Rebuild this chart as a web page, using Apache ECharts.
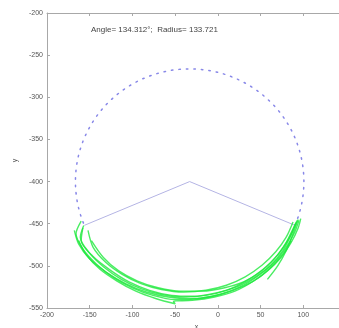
<!DOCTYPE html>
<html>
<head>
<meta charset="utf-8">
<script src="https://cdn.jsdelivr.net/npm/echarts@6/dist/echarts.min.js"></script>
<style>
  html, body { margin: 0; padding: 0; background: #fff; }
  #chart { width: 339px; height: 328px; }
</style>
</head>
<body>
<div id="chart"></div>
<script>
// fitted circle and the two end points of the wedge
const center = [-33, -400];
const radius = 133.721;
const wedgeAngle = 134.312;
const leftEnd = [-156.2, -451.9];
const rightEnd = [90.2, -451.9];

// green traces
const trace1 = [[-160, -447], [-166, -462], [-158, -480], [-142, -498], [-122, -514], [-100, -526], [-76, -535], [-50, -540], [-24, -539], [2, -534], [26, -525], [47, -512], [66, -496], [80, -478], [90, -460], [95, -446]];
const trace2 = [[-157, -452], [-161, -466], [-151, -484], [-134, -501], [-113, -516], [-90, -527], [-66, -534], [-40, -537], [-14, -535], [10, -529], [33, -518], [53, -504], [70, -487], [83, -468], [91, -450]];
const trace3 = [[-152, -458], [-146, -478], [-131, -496], [-112, -510], [-90, -521], [-66, -528], [-40, -531], [-14, -529], [10, -523], [32, -513], [52, -499], [68, -483], [80, -466], [88, -448]];
const trace4 = [[-163, -470], [-154, -487], [-138, -504], [-118, -518], [-96, -530], [-72, -539], [-50, -545], [-52, -542], [-30, -541], [-4, -537], [20, -530], [42, -518], [61, -503], [76, -486], [86, -470]];
const trace5 = [[-168, -458], [-163, -474], [-150, -492], [-130, -508], [-108, -521], [-84, -531], [-58, -537], [-32, -539], [-6, -536], [18, -529], [40, -519], [58, -506], [74, -490], [86, -472], [94, -455], [97, -444]];
const trace6 = [[-148, -470], [-134, -490], [-116, -506], [-94, -518], [-70, -526], [-44, -530], [-18, -530], [8, -526], [30, -519], [50, -507], [66, -492], [79, -474], [88, -456], [93, -446]];
const trace7 = [[94, -445], [88, -462], [80, -482], [70, -500], [58, -516]];
const trace8 = [[-158, -455], [-160, -470], [-146, -489], [-126, -505], [-104, -519], [-80, -529], [-54, -535], [-28, -536], [-2, -532], [22, -525], [44, -513], [62, -499], [76, -482], [86, -463], [92, -448]];
const traces = [trace1, trace2, trace3, trace4, trace5, trace6, trace7, trace8];

const axisColor = '#a8a8a8';
const labelStyle = { color: '#555', fontSize: 7, fontFamily: 'Liberation Sans' };

const chart = echarts.init(document.getElementById('chart'));

const traceSeries = traces.map(t => ({
  type: 'line',
  data: t,
  symbol: 'none',
  smooth: 0.3,
  silent: true,
  lineStyle: { color: '#1ee83c', width: 1.4, opacity: 0.8 },
  z: 3
}));

chart.setOption({
  animation: false,
  title: {
    text: 'Angle= ' + wedgeAngle.toFixed(3) + '°;  Radius= ' + radius.toFixed(3),
    left: 86, top: 21,
    textStyle: { fontSize: 8, fontWeight: 'normal', color: '#444', fontFamily: 'Liberation Sans' }
  },
  grid: { left: 47, top: 13, bottom: 20, right: -7, outerBoundsMode: 'none', containLabel: false },
  xAxis: [{
    type: 'value', min: -200, max: 150, interval: 50,
    name: 'x', nameLocation: 'middle', nameGap: 15,
    nameTextStyle: { fontSize: 7, color: '#555', fontFamily: 'Liberation Sans' },
    axisLine: { onZero: false, lineStyle: { color: axisColor } },
    axisTick: { inside: true, length: 3, lineStyle: { color: axisColor } },
    axisLabel: Object.assign({ margin: 4 }, labelStyle),
    splitLine: { show: false }
  }, {
    type: 'value', position: 'top', min: -200, max: 150, interval: 50,
    axisLine: { onZero: false, lineStyle: { color: axisColor } },
    axisTick: { inside: true, length: 3, lineStyle: { color: axisColor } },
    axisLabel: { show: false },
    splitLine: { show: false }
  }],
  yAxis: [{
    type: 'value', min: -550, max: -200, interval: 50,
    name: 'y', nameLocation: 'middle', nameGap: 28, nameRotate: 90,
    nameTextStyle: { fontSize: 7, color: '#555', fontFamily: 'Liberation Sans' },
    axisLine: { show: true, onZero: false, lineStyle: { color: axisColor } },
    axisTick: { show: true, inside: true, length: 3, lineStyle: { color: axisColor } },
    axisLabel: Object.assign({ margin: 4 }, labelStyle),
    splitLine: { show: false }
  }],
  series: [
    {
      type: 'custom',
      silent: true,
      data: [[center[0], center[1], radius]],
      renderItem: function (params, api) {
        const cx = api.value(0), cy = api.value(1), r = api.value(2);
        let a0 = Math.atan2(rightEnd[1] - cy, rightEnd[0] - cx);
        let a1 = Math.atan2(leftEnd[1] - cy, leftEnd[0] - cx);
        if (a1 < a0) a1 += Math.PI * 2;
        const pts = [];
        const n = 120;
        for (let i = 0; i <= n; i++) {
          const a = a0 + (a1 - a0) * i / n;
          pts.push(api.coord([cx + r * Math.cos(a), cy + r * Math.sin(a)]));
        }
        return {
          type: 'polyline',
          shape: { points: pts },
          style: { stroke: '#8888e8', lineWidth: 1.5, lineDash: [1.5, 6], lineCap: 'round', fill: null }
        };
      },
      z: 2
    },
    {
      type: 'line',
      data: [leftEnd, center, rightEnd],
      symbol: 'none',
      silent: true,
      lineStyle: { color: '#b4b4e4', width: 1 },
      z: 2
    }
  ].concat(traceSeries)
});
</script>
</body>
</html>
